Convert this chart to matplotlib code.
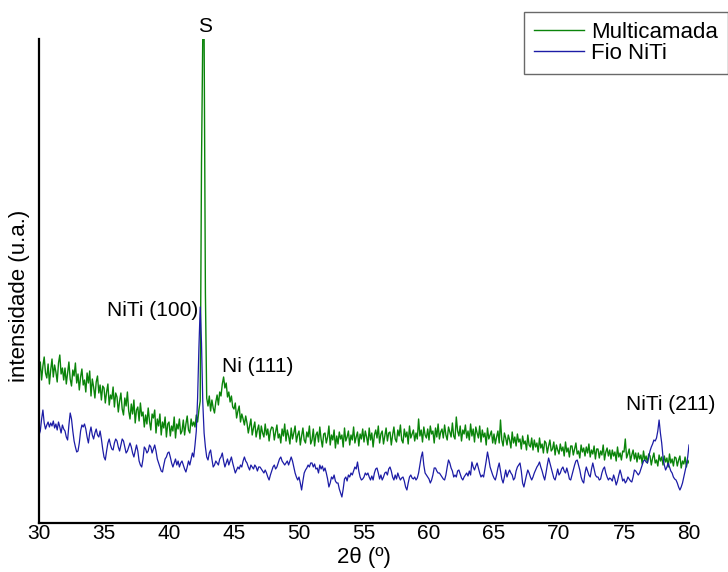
import numpy as np
import matplotlib
matplotlib.use("Agg")
import matplotlib.pyplot as plt

# ---------------- data ----------------
two_theta_start = 30.0
two_theta_step = 0.1

multicamada = [
    148, 161, 143, 157, 166, 150, 145, 159, 139, 153,   # 30
    164, 146, 158, 151, 141, 160, 168, 149, 155, 143,   # 31
    155, 139, 150, 161, 144, 137, 153, 147, 160, 140,   # 32
    149, 133, 146, 154, 138, 143, 131, 150, 140, 152,   # 33
    127, 144, 136, 125, 141, 147, 130, 138, 123, 137,   # 34
    135, 120, 131, 139, 118, 128, 124, 136, 116, 130,   # 35
    126, 111, 122, 130, 114, 108, 125, 117, 131, 112,   # 36
    104, 119, 109, 123, 100, 113, 116, 102, 120, 107,   # 37
    111, 96, 108, 99, 115, 102, 93, 109, 105, 113,      # 38
    90, 104, 97, 109, 88, 101, 95, 106, 86, 99,         # 39
    101, 87, 97, 92, 106, 85, 99, 94, 104, 89,          # 40
    92, 103, 88, 99, 107, 93, 90, 104, 97, 101,         # 41
    96, 108, 101, 113, 122, 360, 490, 490, 230, 125,    # 42
    117, 127, 112, 123, 115, 110, 121, 128, 118, 131,   # 43
    127, 139, 146, 135, 140, 126, 131, 121, 127, 116,   # 44
    114, 120, 105, 112, 117, 101, 109, 104, 98, 107,    # 45
    100, 90, 97, 104, 88, 95, 101, 86, 93, 98,          # 46
    84, 97, 90, 86, 99, 88, 94, 82, 92, 96,             # 47
    95, 83, 91, 98, 85, 89, 80, 94, 87, 99,             # 48
    82, 93, 87, 79, 95, 84, 90, 97, 81, 88,             # 49
    92, 78, 87, 95, 83, 80, 91, 86, 97, 79,             # 50
    83, 94, 77, 88, 91, 81, 96, 84, 76, 89,             # 51
    90, 80, 86, 97, 78, 88, 83, 93, 75, 87,             # 52
    79, 91, 84, 88, 76, 95, 82, 86, 92, 78,             # 53
    88, 83, 96, 80, 86, 91, 77, 89, 84, 94,             # 54
    81, 92, 86, 78, 95, 83, 90, 76, 88, 93,             # 55
    85, 97, 80, 89, 92, 79, 87, 95, 82, 90,             # 56
    91, 78, 88, 96, 84, 81, 93, 87, 98, 83,             # 57
    80, 94, 86, 91, 79, 97, 85, 89, 93, 82,             # 58
    90, 84, 104, 87, 93, 81, 96, 88, 85, 94,            # 59
    83, 97, 89, 92, 80, 95, 86, 99, 84, 91,             # 60
    94, 85, 98, 88, 83, 96, 91, 86, 100, 87,            # 61
    84, 106, 92, 87, 97, 82, 93, 89, 98, 85,            # 62
    92, 83, 99, 87, 94, 81, 96, 90, 85, 97,             # 63
    81, 93, 86, 90, 78, 95, 84, 88, 92, 80,             # 64
    89, 79, 86, 92, 80, 103, 83, 77, 90, 85,            # 65
    78, 88, 83, 75, 91, 80, 86, 77, 89, 81,             # 66
    84, 74, 87, 79, 82, 73, 88, 78, 76, 85,             # 67
    73, 83, 76, 80, 71, 85, 75, 79, 70, 82,             # 68
    80, 70, 77, 83, 72, 74, 81, 68, 78, 73,             # 69
    69, 79, 72, 76, 67, 81, 71, 75, 66, 77,             # 70
    77, 68, 74, 80, 69, 72, 65, 78, 71, 75,             # 71
    67, 76, 70, 79, 66, 73, 69, 77, 64, 74,             # 72
    74, 65, 72, 68, 78, 63, 71, 75, 67, 73,             # 73
    64, 73, 67, 71, 62, 76, 66, 70, 63, 72,             # 74
    71, 84, 65, 69, 74, 62, 68, 73, 64, 70,             # 75
    61, 70, 64, 68, 59, 72, 63, 67, 60, 69,             # 76
    67, 58, 65, 70, 60, 63, 57, 68, 62, 66,             # 77
    58, 67, 61, 65, 56, 69, 60, 64, 57, 66,             # 78
    65, 57, 63, 67, 55, 62, 59, 66, 56, 63,             # 79
    60,                                                 # 80
]

fio_niti = [
    88, 92, 104, 113, 100, 94, 98, 101, 96, 100,        # 30
    97, 102, 95, 99, 93, 101, 96, 90, 98, 94,           # 31
    92, 86, 83, 98, 110, 104, 92, 82, 76, 71,           # 32
    72, 80, 92, 98, 96, 99, 94, 86, 80, 90,             # 33
    96, 88, 84, 90, 94, 88, 86, 92, 84, 74,             # 34
    66, 63, 72, 80, 84, 78, 74, 73, 80, 84,             # 35
    82, 76, 72, 78, 84, 82, 76, 70, 72, 76,             # 36
    80, 76, 70, 66, 72, 78, 72, 62, 58, 56,             # 37
    64, 76, 74, 70, 72, 78, 76, 70, 74, 78,             # 38
    72, 64, 60, 56, 52, 51, 58, 64, 66, 70,             # 39
    71, 66, 60, 56, 60, 64, 58, 62, 56, 60,             # 40
    62, 58, 54, 51, 56, 62, 58, 64, 70, 66,             # 41
    78, 92, 125, 175, 216, 180, 120, 90, 76, 66,        # 42
    63, 70, 73, 64, 56, 58, 62, 60, 58, 64,             # 43
    66, 70, 62, 56, 60, 64, 58, 62, 66, 60,             # 44
    55, 50, 53, 56, 54, 58, 56, 62, 66, 62,             # 45
    60, 56, 53, 58, 56, 54, 58, 56, 52, 56,             # 46
    56, 54, 52, 50, 53, 50, 46, 43, 48, 52,             # 47
    56, 58, 54, 56, 60, 64, 66, 62, 60, 58,             # 48
    60, 62, 58, 62, 66, 62, 56, 50, 46, 43,             # 49
    46, 40, 33, 42, 50, 53, 55, 58, 56, 60,             # 50
    60, 56, 59, 54, 55, 50, 58, 54, 57, 52,             # 51
    55, 50, 44, 36, 40, 46, 44, 48, 42, 40,             # 52
    40, 34, 30, 26, 34, 44, 46, 42, 48, 46,             # 53
    50, 48, 52, 56, 54, 61, 52, 46, 43, 44,             # 54
    46, 50, 48, 50, 46, 43, 47, 43, 50, 54,             # 55
    55, 50, 44, 48, 43, 46, 50, 51, 48, 54,             # 56
    56, 52, 46, 43, 48, 44, 50, 46, 43, 45,             # 57
    46, 42, 36, 33, 40, 46, 48, 45, 44, 46,             # 58
    43, 45, 50, 58, 66, 71, 58, 50, 48, 46,             # 59
    44, 40, 43, 48, 55, 55, 52, 50, 50, 48,             # 60
    46, 44, 43, 48, 56, 63, 60, 55, 52, 46,             # 61
    48, 46, 52, 53, 49, 45, 43, 46, 48, 50,             # 62
    47, 52, 48, 61, 56, 53, 57, 60, 55, 50,             # 63
    46, 48, 46, 54, 62, 71, 64, 56, 52, 48,             # 64
    45, 43, 48, 55, 60, 52, 44, 40, 46, 53,             # 65
    46, 50, 53, 50, 48, 43, 45, 52, 56, 58,             # 66
    60, 52, 40, 36, 42, 48, 53, 50, 46, 43,             # 67
    46, 50, 53, 56, 58, 61, 56, 52, 47, 43,             # 68
    50, 58, 65, 60, 55, 50, 45, 43, 48, 54,             # 69
    48, 50, 54, 56, 52, 50, 55, 50, 44, 43,             # 70
    48, 53, 58, 62, 63, 58, 53, 46, 42, 40,             # 71
    50, 56, 52, 48, 46, 54, 60, 54, 48, 46,             # 72
    46, 43, 44, 50, 54, 56, 50, 46, 43, 45,             # 73
    44, 42, 48, 44, 38, 42, 48, 53, 48, 42,             # 74
    44, 40, 42, 46, 44, 42, 41, 46, 53, 52,             # 75
    50, 48, 50, 54, 58, 62, 63, 61, 60, 66,             # 76
    72, 76, 79, 83, 82, 85, 92, 103, 90, 80,            # 77
    66, 58, 53, 56, 60, 56, 52, 50, 46, 44,             # 78
    43, 40, 36, 33, 36, 40, 46, 52, 58, 66,             # 79
    78,                                                 # 80
]

series_labels = ["Multicamada", "Fio NiTi"]
x_ticks = [30, 35, 40, 45, 50, 55, 60, 65, 70, 75, 80]
peak_labels = ["S", "NiTi (100)", "Ni (111)", "NiTi (211)"]
peak_label_pos = [(42.77, 497), (42.23, 212), (44.08, 156), (75.15, 119)]
peak_label_ha = ["center", "right", "left", "left"]

# ---------------- plotting ----------------
plt.rcParams['font.family'] = ['Liberation Sans', 'DejaVu Sans']
narrow = ['Liberation Sans Narrow', 'Liberation Sans']

W, H = 728, 572
fig = plt.figure(figsize=(W / 100, H / 100), dpi=100)
ax = fig.add_axes([39 / W, 49 / H, 650 / W, 484 / H])

x1 = two_theta_start + two_theta_step * np.arange(len(multicamada))
x2 = two_theta_start + two_theta_step * np.arange(len(fio_niti))

green = '#0a840a'
blue = '#1c1ca6'
ax.plot(x1, multicamada, color=green, lw=1.0, label=series_labels[0])
ax.plot(x2, fio_niti, color=blue, lw=0.9, label=series_labels[1])

ax.set_xlim(30, 80)
ax.set_ylim(0, 484)
ax.set_xticks(x_ticks)
ax.set_xticklabels([str(t) for t in x_ticks], family=narrow, fontsize=15)
ax.set_yticks([])
ax.tick_params(axis='x', length=0, pad=1)
for s in ['top', 'right']:
    ax.spines[s].set_visible(False)
for s in ['left', 'bottom']:
    ax.spines[s].set_linewidth(1.6)
    ax.spines[s].set_color('black')

for txt, (px, py), ha in zip(peak_labels, peak_label_pos, peak_label_ha):
    ax.text(px, py, txt, ha=ha, va='center', fontsize=15, clip_on=False)

fig.text(364 / W, 1 - 557 / H, "2θ (º)", ha='center', va='center',
         fontsize=16, family=narrow)
fig.text(20 / W, 1 - 296 / H, "intensidade (u.a.)", ha='center', va='center',
         rotation=90, fontsize=16)

leg = ax.legend(loc='upper right', bbox_to_anchor=(1.0, 1 - 12 / H),
                bbox_transform=fig.transFigure, frameon=True, fancybox=False,
                fontsize=16, handlelength=2.25, handletextpad=0.3,
                borderpad=0.45, labelspacing=0.0, borderaxespad=0)
leg.get_frame().set_edgecolor('#444444')
leg.get_frame().set_linewidth(1.0)
for l in leg.get_lines():
    l.set_linewidth(1.0)

fig.savefig('out.png', dpi=100)
